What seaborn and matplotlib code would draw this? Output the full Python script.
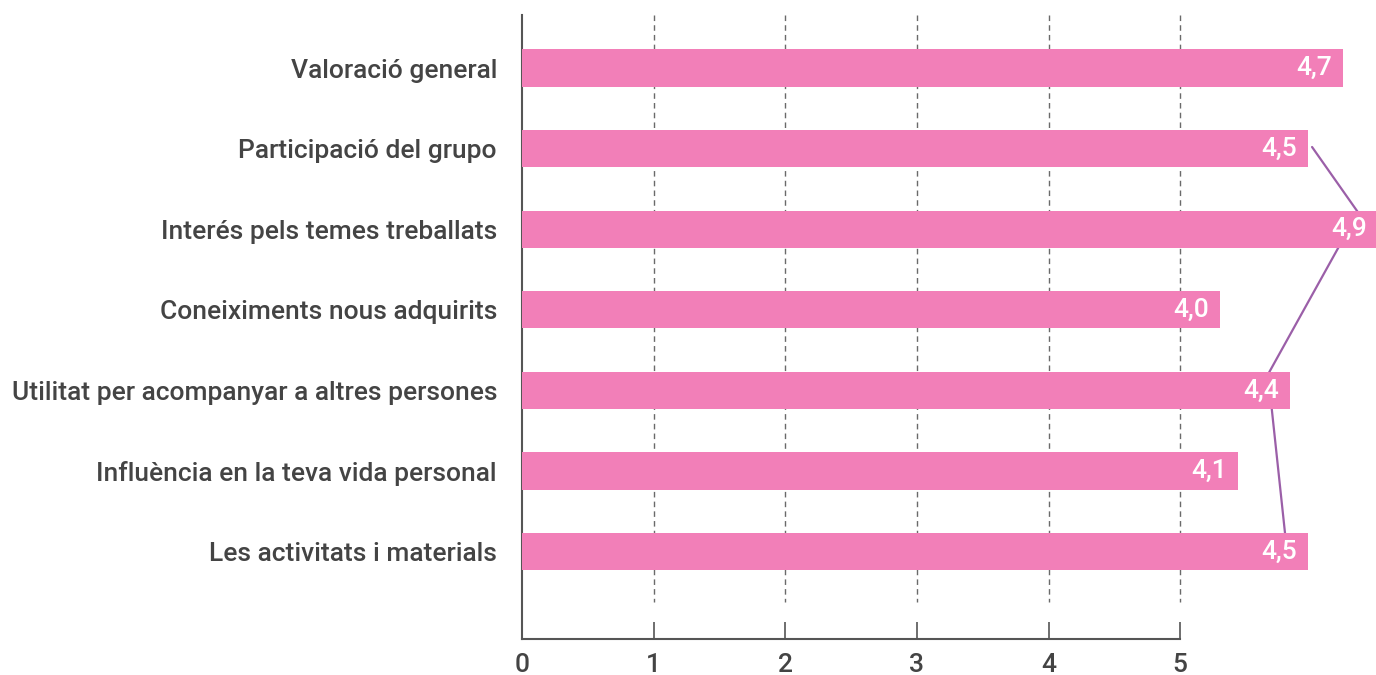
import matplotlib
matplotlib.use("Agg")
import matplotlib.pyplot as plt
import seaborn as sns
import numpy as np

categories = [
    "Valoració general",
    "Participació del grupo",
    "Interés pels temes treballats",
    "Coneiximents nous adquirits",
    "Utilitat per acompanyar a altres persones",
    "Influència en la teva vida personal",
    "Les activitats i materials",
]
values = [4.7, 4.5, 4.9, 4.0, 4.4, 4.1, 4.5]
value_labels = ["4,7", "4,5", "4,9", "4,0", "4,4", "4,1", "4,5"]

tick_labels = ["0", "1", "2", "3", "4", "5"]
tick_step = 0.754  # axis tick spacing in value units, as drawn in the reference

# decorative connector line (value units, row positions)
line_x = [4.525, 4.788, 4.273, 4.370]
line_y = [0.98, 1.79, 3.80, 5.77]

BAR = "#F27FB8"
LINE = "#9B5FA8"
TXT = "#444444"

sns.set_theme(style="white")
plt.rcParams["font.family"] = ["Roboto", "DejaVu Sans"]

fig = plt.figure(figsize=(13.76, 6.75), dpi=100)
W, H = 1376, 675
ax = fig.add_axes([522 / W, (H - 639) / H, (1376 - 522) / W, (639 - 15) / H])

ax.plot(line_x, line_y, color=LINE, lw=1.6, zorder=1, solid_capstyle="round")

sns.barplot(x=values, y=categories, color=BAR, width=0.46, orient="h",
            saturation=1, ax=ax, zorder=3)
for p in ax.patches:
    p.set_edgecolor("none")

ticks = [i * tick_step for i in range(len(tick_labels))]
ax.set_xlim(0, 854 / 174.6)
ax.set_ylim(7.085, -0.658)

ax.vlines(ticks[1:], -0.658, 6.63, colors="#6a6a6a", linestyles=(0, (4, 3)),
          lw=1.0, zorder=2)

ax.set_xticks(ticks)
ax.set_xticklabels(tick_labels, fontsize=19, color=TXT, fontweight="medium")
ax.tick_params(axis="x", direction="in", length=12, width=1.2, color="#555555",
               pad=10, bottom=True)
ax.tick_params(axis="y", length=0, pad=18)
for lab in ax.get_yticklabels():
    lab.set_fontsize(19)
    lab.set_color(TXT)
    lab.set_fontweight("medium")

for s in ["top", "right"]:
    ax.spines[s].set_visible(False)
ax.spines["left"].set_color("#555555")
ax.spines["left"].set_linewidth(1.5)
ax.spines["bottom"].set_color("#555555")
ax.spines["bottom"].set_linewidth(1.5)
ax.spines["bottom"].set_bounds(0, ticks[-1])
ax.set_xlabel("")
ax.set_ylabel("")

for i, (v, lab) in enumerate(zip(values, value_labels)):
    ax.annotate(lab, xy=(v, i), xytext=(-11, 0), textcoords="offset pixels",
                ha="right", va="center", color="white", fontsize=19,
                fontweight="medium", zorder=5, annotation_clip=False, clip_on=False)

fig.savefig("out.png", dpi=100, facecolor="white")
